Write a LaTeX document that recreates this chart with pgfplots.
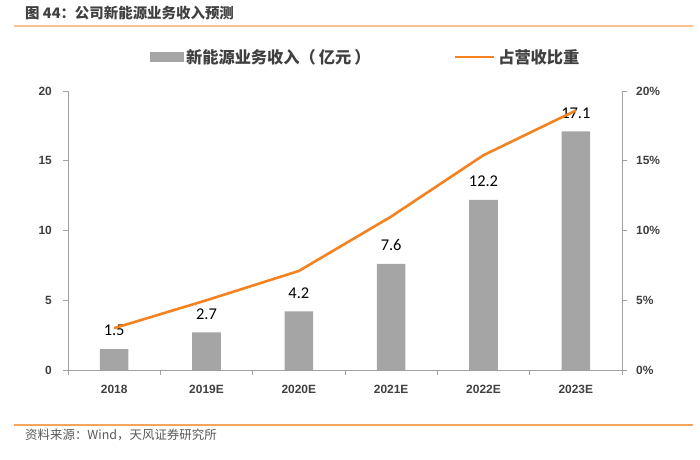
\documentclass[border=0pt]{standalone}
\usepackage{fontspec}
\setmainfont{Liberation Sans}
\newfontfamily\cjk{Noto Sans CJK SC}
\newfontfamily\calfont{Carlito}
\usepackage{pgfplots}
\pgfplotsset{compat=1.18}
\definecolor{bargray}{HTML}{A5A5A5}
\definecolor{orangel}{HTML}{F5821F}
\definecolor{axisgray}{HTML}{A0A0A0}
\definecolor{labgray}{HTML}{404040}
\definecolor{srcgray}{HTML}{595959}
\definecolor{rulet}{HTML}{FAC08F}
\definecolor{ruleb}{HTML}{F7A35C}
\begin{document}
\begin{tikzpicture}
\path[use as bounding box] (0bp,0bp) rectangle (700bp,460bp);
\draw[rulet, line width=2bp] (14bp,434bp) -- (693bp,434bp);
\draw[ruleb, line width=2bp] (14bp,34.5bp) -- (693bp,34.5bp);
\node[anchor=west, inner sep=0, text=labgray, font=\cjk\bfseries\fontsize{14.5}{17}\selectfont] at (25bp,447bp) {图 44：公司新能源业务收入预测};
\node[anchor=west, inner sep=0, text=srcgray, font=\cjk\fontsize{12.5}{14}\selectfont] at (25bp,25bp) {资料来源：Wind，天风证券研究所};
\begin{axis}[
  at={(68bp,90bp)}, anchor=south west, width=554bp, height=279bp, scale only axis,
  xmin=-0.5, xmax=5.5, ymin=0, ymax=20,
  axis y line*=left, axis x line*=bottom,
  xtick={0,...,5}, xticklabels={2018,2019E,2020E,2021E,2022E,2023E},
  minor xtick={-0.5,0.5,...,5.5},
  ytick={0,5,...,20},
  tick align=outside, major tick length=5bp, minor tick length=5bp,
  axis line style={axisgray, line width=0.8bp},
  every tick/.style={axisgray, line width=0.8bp},
  major x tick style={draw=none},
  tick label style={font=\bfseries\fontsize{12}{14}\selectfont, text=labgray, inner sep=0},
  xticklabel style={yshift=-9.5bp},
  yticklabel style={xshift=-11bp},
  /pgf/number format/assume math mode=true,
  ybar, bar width=28.6bp,
  clip=false,
]
\addplot[fill=bargray, draw=none, nodes near coords,
  nodes near coords style={font=\calfont\fontsize{16.5}{18}\selectfont, text=black, anchor=south, inner sep=0, yshift=13bp}]
  coordinates {(0,1.5) (1,2.7) (2,4.2) (3,7.6) (4,12.2) (5,17.1)};
\end{axis}
\begin{axis}[
  at={(68bp,90bp)}, anchor=south west, width=554bp, height=279bp, scale only axis,
  xmin=-0.5, xmax=5.5, ymin=0, ymax=20,
  axis y line*=right, axis x line=none,
  ytick={0,5,...,20}, yticklabel={\pgfmathprintnumber{\tick}\%},
  tick align=outside, major tick length=5bp,
  axis line style={axisgray, line width=0.8bp},
  every tick/.style={axisgray, line width=0.8bp},
  tick label style={font=\bfseries\fontsize{12}{14}\selectfont, text=labgray, inner sep=0},
  yticklabel style={xshift=9bp},
  /pgf/number format/assume math mode=true,
  clip=false,
  legend columns=2,
  legend style={at={(0.538,1.122)}, anchor=center, draw=none, fill=none,
    font=\cjk\bfseries\fontsize{16.3}{19}\selectfont, text=labgray,
    nodes={inner sep=3bp},
    /tikz/every even column/.style={column sep=80bp}},
]
\addlegendimage{legend image code/.code={\fill[bargray] (0bp,-4.5bp) rectangle (33bp,4.5bp);}}
\addlegendentry{新能源业务收入（\hspace{3bp}亿元\hspace{3bp}）}
\addplot[orangel, line width=2.6bp, legend image code/.code={\draw[orangel, line width=2.6bp] (0bp,0bp) -- (39bp,0bp);}]
  coordinates {(0,3.0) (1,5.0) (2,7.1) (3,11.0) (4,15.4) (5,18.6)};
\addlegendentry{占营收比重}
\end{axis}
\end{tikzpicture}
\end{document}
